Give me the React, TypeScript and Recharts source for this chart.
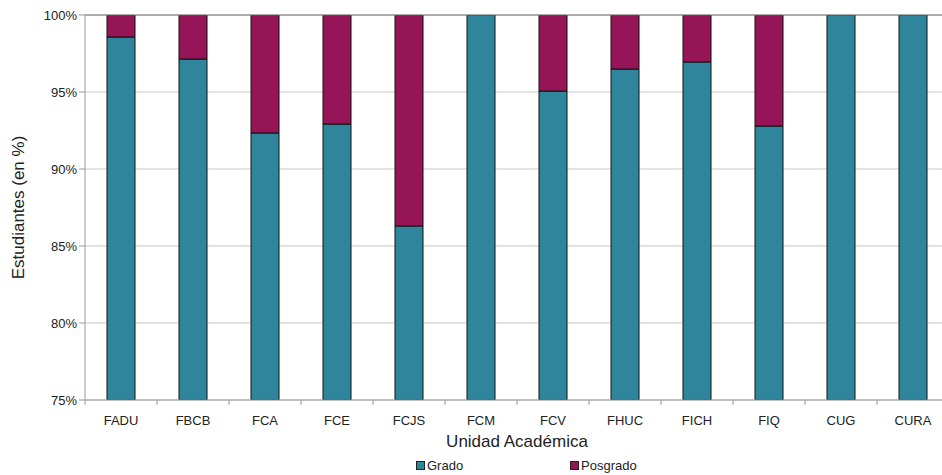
import React from 'react';
import { BarChart, Bar, XAxis, YAxis, CartesianGrid, Legend, ReferenceLine } from 'recharts';

const unidades = ['FADU', 'FBCB', 'FCA', 'FCE', 'FCJS', 'FCM', 'FCV', 'FHUC', 'FICH', 'FIQ', 'CUG', 'CURA'];
const grado = [98.57, 97.14, 92.34, 92.92, 86.3, 100, 95.06, 96.49, 96.95, 92.79, 100, 100];
const posgrado = [1.43, 2.86, 7.66, 7.08, 13.7, 0, 4.94, 3.51, 3.05, 7.21, 0, 0];
const yTicks = [75, 80, 85, 90, 95, 100];

const GRADO = '#2f869c';
const POSGRADO = '#961556';
const FONT = '"Liberation Sans", Arial, sans-serif';

const data = unidades.map((u, i) => ({ unidad: u, grado: grado[i], posgrado: posgrado[i] }));

const BAND = 864 / unidades.length;

const XTick = (props: any) => {
  const { x, y, payload } = props;
  return (
    <g>
      <line x1={x - BAND / 2} x2={x - BAND / 2} y1={y - 8} y2={y - 3} stroke="#999" />
      <text x={x} y={y + 17} textAnchor="middle" fill="#222" fontSize={13} fontFamily={FONT}>
        {payload.value}
      </text>
    </g>
  );
};

const YLabel = (props: any) => {
  const { viewBox } = props;
  const cy = viewBox.y + viewBox.height / 2;
  return (
    <text x={24} y={cy} transform={`rotate(-90 24 ${cy})`} textAnchor="middle" fill="#222" fontSize={17} fontFamily={FONT}>
      Estudiantes (en %)
    </text>
  );
};

const LegendContent = () => (
  <div style={{ position: 'relative', height: 25, fontFamily: FONT, fontSize: 13, color: '#222' }}>
    <div style={{ position: 'absolute', left: 416, top: 8, display: 'flex', alignItems: 'center' }}>
      <span style={{ width: 7, height: 7, background: GRADO, border: '1px solid #222', marginRight: 2 }} />
      Grado
    </div>
    <div style={{ position: 'absolute', left: 570, top: 8, display: 'flex', alignItems: 'center' }}>
      <span style={{ width: 7, height: 7, background: POSGRADO, border: '1px solid #222', marginRight: 2 }} />
      Posgrado
    </div>
  </div>
);

export default function App() {
  return (
    <div style={{ position: 'absolute', left: 0, top: 0, width: 942, height: 475, overflow: 'hidden', background: '#fff' }}>
      <BarChart width={949} height={475} data={data} margin={{ top: 15, right: 0, left: 0, bottom: 0 }}>
        <CartesianGrid horizontal vertical={false} stroke="#c8c8c8" />
        <XAxis
          dataKey="unidad"
          height={50}
          axisLine={{ stroke: '#999' }}
          tickLine={false}
          tick={<XTick />}
          interval={0}
          label={{ value: 'Unidad Académica', position: 'insideBottom', offset: 3, fill: '#222', fontSize: 17, fontFamily: FONT }}
        />
        <YAxis
          width={85}
          domain={[75, 100]}
          ticks={yTicks}
          allowDataOverflow
          tickFormatter={(v: number) => `${v}%`}
          axisLine={{ stroke: '#999' }}
          tickLine={{ stroke: '#999' }}
          tickSize={6}
          tick={{ fill: '#222', fontSize: 13, fontFamily: FONT }}
          label={<YLabel />}
        />
        <ReferenceLine y={100} stroke="#777" />
        <Legend verticalAlign="bottom" height={25} content={<LegendContent />} />
        <Bar dataKey="grado" stackId="a" fill={GRADO} stroke="#111" strokeWidth={1} barSize={28} isAnimationActive={false} />
        <Bar dataKey="posgrado" stackId="a" fill={POSGRADO} stroke="#111" strokeWidth={1} barSize={28} isAnimationActive={false} />
      </BarChart>
    </div>
  );
}
